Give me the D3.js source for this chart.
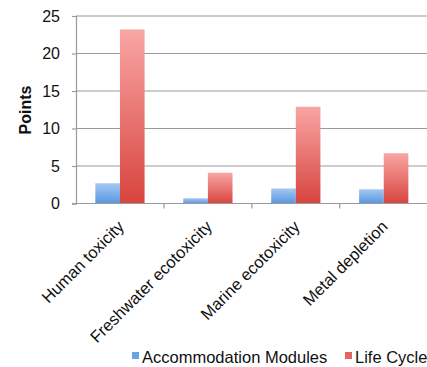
<!DOCTYPE html>
<html>
<head>
<meta charset="utf-8">
<script src="https://cdn.jsdelivr.net/npm/d3@7"></script>
<style>
  html, body { margin: 0; padding: 0; background: #fff; }
  svg { display: block; font-family: "Liberation Sans", Arial, Helvetica, sans-serif; }
</style>
</head>
<body>
<svg id="chart" width="427" height="367"></svg>
<script>
// Impact categories and the two compared series (points)
const categories = ["Human toxicity", "Freshwater ecotoxicity", "Marine ecotoxicity", "Metal depletion"];
const seriesNames = ["Accommodation Modules", "Life Cycle"];
const accommodationModules = [2.7, 0.7, 2.0, 1.9];
const lifeCycle = [23.2, 4.1, 12.9, 6.7];
const yTicks = [0, 5, 10, 15, 20, 25];

const seriesValues = [accommodationModules, lifeCycle];
const rows = categories.map((c, i) => ({ category: c, values: seriesValues.map((s, j) => ({ series: seriesNames[j], value: s[i] })) }));

const svg = d3.select("#chart");
const margin = { left: 76, right: 0, top: 16, bottom: 163.5 };
const W = 427, H = 367;

const x0 = d3.scaleBand().domain(categories).range([margin.left, 427 + 0.7]).padding(0);
const bw = x0.bandwidth();
const x1 = d3.scaleBand().domain(seriesNames).range([bw * 0.22, bw * 0.78]).padding(0);
const y = d3.scaleLinear().domain([0, 25]).range([H - margin.bottom, margin.top]);

// gradients for the bars
const defs = svg.append("defs");
const grads = [
  { id: "gBlue", top: "#a3c8f4", bottom: "#5896e0" },
  { id: "gRed", top: "#f8a6a4", bottom: "#d8443e" }
];
grads.forEach(g => {
  const lg = defs.append("linearGradient").attr("id", g.id).attr("x1", 0).attr("y1", 0).attr("x2", 0).attr("y2", 1);
  lg.append("stop").attr("offset", "0%").attr("stop-color", g.top);
  lg.append("stop").attr("offset", "100%").attr("stop-color", g.bottom);
});
const fillFor = { "Accommodation Modules": "url(#gBlue)", "Life Cycle": "url(#gRed)" };
const legendColor = { "Accommodation Modules": "#6aa3e6", "Life Cycle": "#e46460" };

// horizontal gridlines
svg.append("g").selectAll("line").data(yTicks.filter(t => t > 0)).join("line")
  .attr("x1", margin.left).attr("x2", W)
  .attr("y1", d => y(d)).attr("y2", d => y(d))
  .attr("stroke", "#9a9a9a").attr("stroke-width", 1.2);

// y axis
const yAxis = svg.append("g").attr("transform", `translate(${margin.left},0)`)
  .call(d3.axisLeft(y).tickValues(yTicks).tickSize(4).tickPadding(12));
yAxis.select(".domain").attr("stroke", "#9a9a9a").attr("stroke-width", 1.2);
yAxis.selectAll(".tick line").attr("stroke", "#9a9a9a").attr("stroke-width", 1.2);
yAxis.selectAll(".tick text").attr("font-size", 16).attr("fill", "#111").attr("font-family", "Liberation Sans, Arial, sans-serif");

// y axis title
svg.append("text")
  .attr("transform", `translate(31,110) rotate(-90)`)
  .attr("text-anchor", "middle")
  .attr("font-size", 16).attr("font-weight", "bold").attr("fill", "#111")
  .text("Points");

// bars
const groups = svg.append("g").selectAll("g").data(rows).join("g")
  .attr("transform", d => `translate(${x0(d.category)},0)`);
groups.selectAll("rect").data(d => d.values).join("rect")
  .attr("x", d => x1(d.series))
  .attr("width", x1.bandwidth())
  .attr("y", d => y(d.value))
  .attr("height", d => y(0) - y(d.value))
  .attr("fill", d => fillFor[d.series]);

// x axis baseline and category ticks
const xAxisG = svg.append("g").attr("transform", `translate(0,${y(0)})`);
xAxisG.append("line").attr("x1", margin.left - 4).attr("x2", W).attr("stroke", "#9a9a9a").attr("stroke-width", 1.2);
const edges = categories.map(c => x0(c) + bw);
xAxisG.selectAll("line.tk").data(edges).join("line").attr("class", "tk")
  .attr("x1", d => d).attr("x2", d => d).attr("y1", 0).attr("y2", 5)
  .attr("stroke", "#9a9a9a").attr("stroke-width", 1.2);

// rotated category labels
svg.append("g").selectAll("text").data(categories).join("text")
  .attr("transform", c => `translate(${x0(c) + bw / 2 + 1},${y(0) + 20}) rotate(-45)`)
  .attr("text-anchor", "end")
  .attr("dy", "0.35em")
  .attr("font-size", 16.5).attr("fill", "#111")
  .text(c => c);

// legend
const legend = svg.append("g");
const legendItems = [
  { name: seriesNames[0], x: 132 },
  { name: seriesNames[1], x: 345 }
];
legend.selectAll("rect").data(legendItems).join("rect")
  .attr("x", d => d.x).attr("y", 352).attr("width", 7).attr("height", 7)
  .attr("fill", d => legendColor[d.name]);
legend.selectAll("text").data(legendItems).join("text")
  .attr("x", d => d.x + 10).attr("y", 363)
  .attr("font-size", 16.5).attr("fill", "#111")
  .text(d => d.name);
</script>
</body>
</html>
